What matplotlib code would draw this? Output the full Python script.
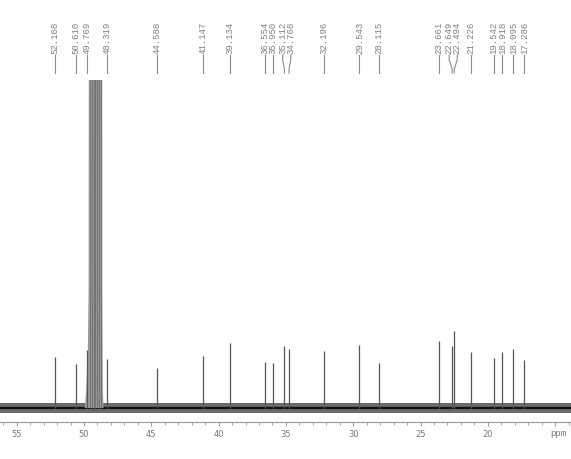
import matplotlib
matplotlib.use("Agg")
import matplotlib.pyplot as plt
from matplotlib import transforms
from matplotlib.ticker import MultipleLocator, FixedLocator

# ---- data ----
peak_ppm = [52.168, 50.610, 49.769, 48.319, 44.588, 41.147, 39.134, 36.554, 35.950,
            35.112, 34.768, 32.196, 29.543, 28.115, 23.661, 22.649, 22.494, 21.226,
            19.542, 18.918, 18.095, 17.286]
peak_int = [51, 44, 58, 49, 40, 52, 65, 46, 45,
            62, 59, 57, 63, 45, 67, 62, 77, 56,
            50, 56, 59, 48]
peak_labels = ["52.168", "50.610", "49.769", "48.319", "44.588", "41.147", "39.134",
               "36.554", "35.950", "35.112", "34.768", "32.196", "29.543", "28.115",
               "23.661", "22.649", "22.494", "21.226", "19.542", "18.918", "18.095",
               "17.286"]
# solvent (CD3OD) envelope, clipped at the top
solvent_ppm = [49.95, 49.85, 49.72, 49.66, 49.63, 48.66, 48.64, 48.60, 48.55]
solvent_int = [0, 15, 50, 120, 600, 600, 120, 20, 0]
solvent_lines = [49.58, 49.43, 49.29, 49.15, 49.00, 48.86, 48.72]
xticks_major = [55, 50, 45, 40, 35, 30, 25, 20, 15]
xtick_labels = ["55", "50", "45", "40", "35", "30", "25", "20", ""]

# ---- figure ----
W, H = 571, 459
fig = plt.figure(figsize=(W / 100, H / 100), dpi=100)
ax = fig.add_axes([0, 37 / H, 1, (422 - 80) / H])
ax.set_xlim(56.24, 13.82)
ax.set_ylim(-14, 328)

# baseline noise band
noise_amp = 5.0
ax.fill_between([56.3, 13.7], [-noise_amp, -noise_amp], [noise_amp, noise_amp],
                color="#6a6a6a", lw=0, zorder=1)
ax.plot([56.3, 13.7], [0, 0], color="#111111", lw=1.6, zorder=2)

# solvent
ax.fill_between(solvent_ppm, 0, solvent_int, color="#9c9c9c", lw=0, zorder=3)
ax.vlines(solvent_lines, 0, 600, color="#747474", lw=0.8, zorder=3)

# peaks
ax.vlines(peak_ppm, 0, peak_int, color="#555555", lw=0.9, zorder=4)

# axis styling
for s in ("left", "right", "top"):
    ax.spines[s].set_visible(False)
ax.spines["bottom"].set_color("#999999")
ax.spines["bottom"].set_linewidth(0.8)
ax.set_yticks([])
ax.xaxis.set_major_locator(FixedLocator(xticks_major))
ax.set_xticklabels(xtick_labels)
ax.xaxis.set_minor_locator(MultipleLocator(1))
ax.tick_params(axis="x", which="major", direction="out", length=3.0, width=0.7,
               color="#999999", labelsize=6, labelcolor="#777777", pad=2.5)
ax.tick_params(axis="x", which="minor", direction="out", length=2.0, width=0.6,
               color="#999999")
ax.text(14.75, -0.034, "ppm",
        transform=transforms.blended_transform_factory(ax.transData, ax.transAxes),
        ha="center", va="center", fontsize=6.5, color="#777777", family="Liberation Mono")

# ---- peak labels with spreading ----
gap = 0.60
order = sorted(range(len(peak_ppm)), key=lambda i: -peak_ppm[i])
groups = [[i] for i in order]
def positions(g):
    c = sum(peak_ppm[i] for i in g) / len(g)
    n = len(g)
    return [c + gap * ((n - 1) / 2 - k) for k in range(n)]
changed = True
while changed:
    changed = False
    for k in range(len(groups) - 1):
        a, b = groups[k], groups[k + 1]
        if positions(a)[-1] - positions(b)[0] < gap - 1e-9:
            groups[k] = a + b
            del groups[k + 1]
            changed = True
            break
label_x = {}
for g in groups:
    for i, p in zip(g, positions(g)):
        label_x[i] = p

bt = transforms.blended_transform_factory(ax.transData, fig.transFigure)
def fy(py):
    return 1 - py / H
for i in range(len(peak_ppm)):
    lx, px = label_x[i], peak_ppm[i]
    ax.plot([lx, lx, px, px], [fy(55), fy(60), fy(69), fy(73)], transform=bt,
            color="#8a8a8a", lw=0.8, clip_on=False)
    ax.text(lx, fy(54), peak_labels[i], transform=bt, rotation=90, ha="center",
            va="bottom", fontsize=6.5, color="#808080", family="Liberation Mono")

fig.savefig("out.png", dpi=100)
